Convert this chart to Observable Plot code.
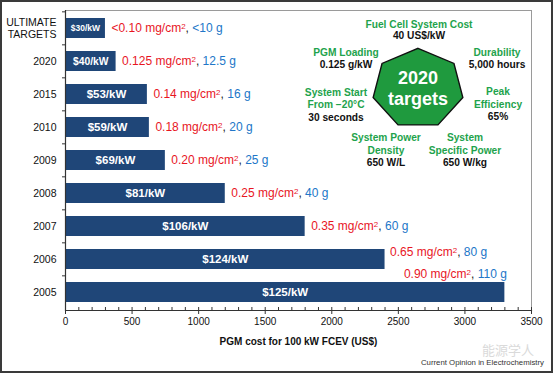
<!DOCTYPE html>
<html>
<head>
<meta charset="utf-8">
<script src="https://cdn.jsdelivr.net/npm/d3@7"></script>
<script src="https://cdn.jsdelivr.net/npm/@observablehq/plot@0.6"></script>
<style>
  html, body { margin: 0; padding: 0; background: #fff; }
  #wrap { position: relative; width: 553px; height: 373px; overflow: hidden; font-family: "Liberation Sans", Arial, sans-serif; }
  #chart { position: absolute; left: 0; top: 0; }
  #targets { position: absolute; left: 0; top: 0; }
  #border { position: absolute; left: 0; top: 0; width: 553px; height: 373px; box-sizing: border-box; border: 2px solid #3a3a3a; pointer-events: none; }
  #caption { position: absolute; right: 9px; top: 358px; font-size: 7.8px; line-height: 9px; color: #333; white-space: nowrap; }
  #mark { position: absolute; left: 482px; top: 342px; font-size: 13px; line-height: 15px; color: #dadada; font-family: "Noto Sans CJK SC", sans-serif; }
  g[aria-label="x-axis label"] text { font-weight: bold; }
</style>
</head>
<body>
<div id="wrap">
  <div id="chart"></div>
  <svg id="targets" width="553" height="180"></svg>
  <div id="mark">能源学人</div>
  <div id="caption">Current Opinion in Electrochemistry</div>
  <div id="border"></div>
</div>
<script>
// ---- data ----
const years = ["ULTIMATE\nTARGETS", "2020", "2015", "2010", "2009", "2008", "2007", "2006", "2005"];
const pgmCost = [300, 380, 615, 630, 750, 1200, 1800, 2400, 3300];
const costPerKW = ["$30/kW", "$40/kW", "$53/kW", "$59/kW", "$69/kW", "$81/kW", "$106/kW", "$124/kW", "$125/kW"];
const loadings = ["<0.10 mg/cm", "0.125 mg/cm", "0.14 mg/cm", "0.18 mg/cm", "0.20 mg/cm", "0.25 mg/cm", "0.35 mg/cm", "0.65 mg/cm", "0.90 mg/cm"];
const pgmMass = ["<10 g", "12.5 g", "16 g", "20 g", "25 g", "40 g", "60 g", "80 g", "110 g"];
const xTicks = [0, 500, 1000, 1500, 2000, 2500, 3000, 3500];

const targetTitles = [["Fuel Cell System Cost"], ["PGM Loading"], ["Durability"], ["System Start", "From \u221220°C"], ["Peak", "Efficiency"], ["System Power", "Density"], ["System", "Specific Power"]];
const targetValues = ["40 US$/kW", "0.125 g/kW", "5,000 hours", "30 seconds", "65%", "650 W/L", "650 W/kg"];
const hexLabel = ["2020", "targets"];

const rows = years.map((y, i) => ({
  year: y, cost: pgmCost[i], label: costPerKW[i],
  note: loadings[i] + "|" + pgmMass[i], idx: i
}));

const W = 553, H = 350;
const mTop = 10, mBottom = 40, mLeft = 65, mRight = 22;
const step = (H - mTop - mBottom) / years.length;

const BAR = "#1f4678", RED = "#e8161f", BLUE = "#2176c8";

const last = rows.length - 1;
const plot = Plot.plot({
  width: W, height: H,
  marginTop: mTop, marginBottom: mBottom, marginLeft: mLeft, marginRight: mRight,
  style: { fontFamily: "Liberation Sans, Arial, sans-serif", fontSize: "10.5px", color: "#111", background: "transparent" },
  x: { domain: [0, 3500] },
  y: { domain: years, paddingInner: 0.4, paddingOuter: 0.2 },
  marks: [
    Plot.frame({ stroke: "#9a9a9a" }),
    Plot.barX(rows, { x: "cost", y: "year", fill: BAR }),
    Plot.text(rows, {
      x: d => d.cost / 2, y: "year", text: "label", fill: "white", fontWeight: "bold",
      fontSize: d => d.cost < 350 ? 8.5 : d.cost < 500 ? 10.3 : 11.5
    }),
    Plot.text(rows.filter(d => d.idx < last - 1), {
      x: "cost", y: "year", text: "note", textAnchor: "start", dx: 6, fontSize: 12
    }),
    Plot.text(rows.filter(d => d.idx === last - 1), {
      x: "cost", y: "year", text: "note", textAnchor: "start", dx: 5, dy: -7, fontSize: 12
    }),
    Plot.text(rows.filter(d => d.idx === last), {
      x: "cost", y: "year", text: "note", textAnchor: "end", dx: 2, dy: -18, fontSize: 12
    }),
    Plot.ruleX([0], { stroke: "#333", strokeWidth: 1.2 }),
    Plot.frame({ anchor: "bottom", stroke: "#333", strokeWidth: 1.2 }),
    Plot.axisX({ ticks: d3.range(0, 3501, 100), tickSize: -3, tickFormat: () => "", label: null, stroke: "#333" }),
    Plot.axisX({ ticks: xTicks, tickSize: 4, tickPadding: 3, stroke: "#333", fontSize: 10, tickFormat: d => String(d),
      label: "PGM cost for 100 kW FCEV (US$)", labelAnchor: "center", labelArrow: false, labelOffset: 34 }),
    Plot.axisY({ tickSize: 0, tickPadding: 9, label: null, lineHeight: 1.1 }),
    Plot.axisY({ tickSize: 3, dy: -step / 2, tickFormat: () => "", label: null, stroke: "#333" })
  ]
});
document.getElementById("chart").appendChild(plot);

// mixed-colour notes with superscript
d3.select(plot).selectAll("text").each(function () {
  const t = d3.select(this);
  const s = t.text();
  if (s.indexOf("|") < 0) return;
  const [a, b] = s.split("|");
  t.text(null);
  t.append("tspan").attr("fill", RED).text(a);
  t.append("tspan").attr("fill", RED).attr("font-size", "8px").attr("dy", "-0.45em").text("2");
  t.append("tspan").attr("fill", "#222").attr("dy", "0.3em").text(", ");
  t.append("tspan").attr("fill", BLUE).text(b);
});

// 2020 targets panel
const svg = d3.select("#targets");
const cx = 418, cy = 88.6, rx = 46, ry = 40.3;
const pts = d3.range(7).map(k => {
  const a = -Math.PI / 2 + k * 2 * Math.PI / 7;
  return [cx + rx * Math.cos(a), cy + ry * Math.sin(a)];
});
svg.append("polygon").attr("points", pts.map(p => p.join(",")).join(" "))
  .attr("fill", "#1f9a3e").attr("stroke", "#111").attr("stroke-width", 1.4).attr("stroke-linejoin", "miter");
svg.append("text").attr("x", cx).attr("y", 77.5).attr("dy", "0.35em").attr("text-anchor", "middle")
  .attr("fill", "white").attr("font-weight", "bold").attr("font-size", 18).text(hexLabel[0]);
svg.append("text").attr("x", cx).attr("y", 98.3).attr("dy", "0.35em").attr("text-anchor", "middle")
  .attr("fill", "white").attr("font-weight", "bold").attr("font-size", 18).text(hexLabel[1]);

const blockCenters = [[419, 30, 11.4], [346, 58.3, 11.4], [497, 58.3, 11.4], [336, 104.6, 12.6], [498, 104.2, 12.5], [386, 150.2, 12.5], [465, 150.2, 12.5]];
targetTitles.forEach((lines, i) => {
  const [bx, by, lh] = blockCenters[i];
  const all = lines.map(s => ({ s, c: "#1ea34c" })).concat([{ s: targetValues[i], c: "#111" }]);
  const y0 = by - (all.length - 1) * lh / 2;
  all.forEach((l, j) => {
    svg.append("text").attr("x", bx).attr("y", y0 + j * lh).attr("dy", "0.35em")
      .attr("text-anchor", "middle").attr("font-weight", "bold").attr("font-size", 10.2)
      .attr("fill", l.c).text(l.s);
  });
});
</script>
</body>
</html>
